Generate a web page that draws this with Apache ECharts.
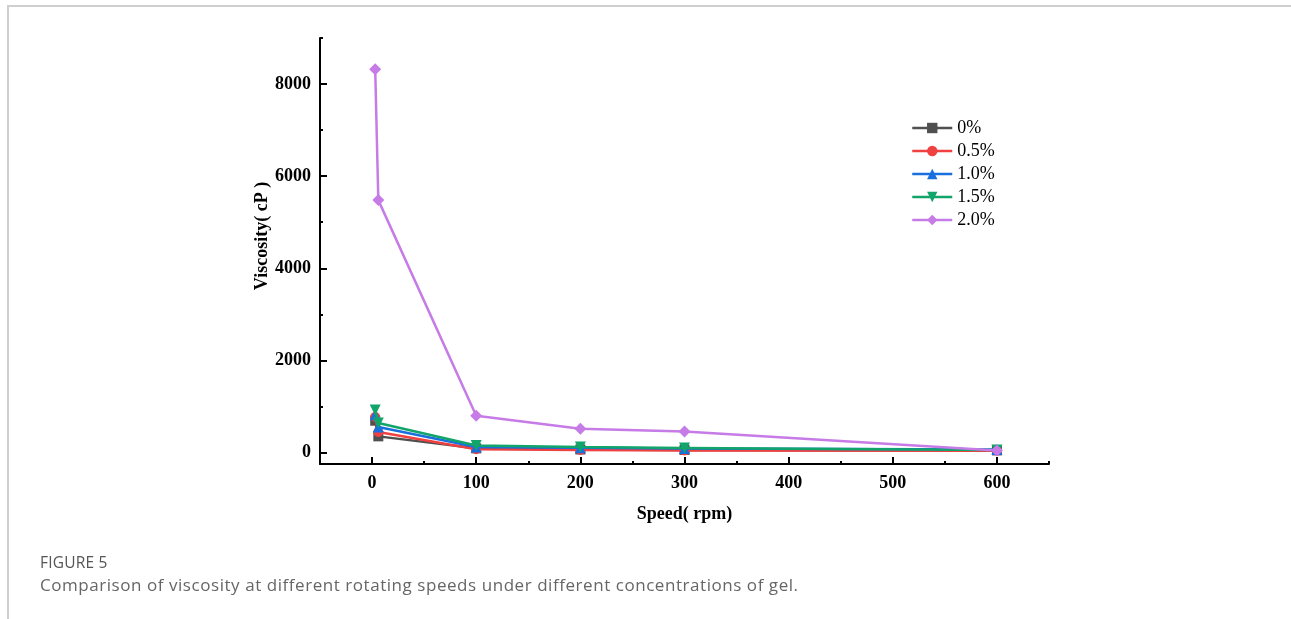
<!DOCTYPE html>
<html lang="en">
<head>
    <meta charset="UTF-8">
    <title>Figure 5 - Viscosity vs speed</title>
    <script src="https://cdn.jsdelivr.net/npm/echarts@6/dist/echarts.min.js"></script>
    <style>
        html, body { margin: 0; padding: 0; background: #fff; }
        #frame {
            position: absolute; left: 7px; top: 5px; width: 1290px; height: 620px;
            border-left: 2px solid #cfcfcf; border-top: 2px solid #cfcfcf;
        }
        #chart { position: absolute; left: 0; top: 0; width: 1291px; height: 619px; }
        .cap { position: absolute; left: 40px; font-family: "Open Sans", sans-serif; color: #666; }
    </style>
</head>
<body>
    <div id="frame"></div>
    <div id="chart"></div>
    <div class="cap" style="top:551px; color:#555; font-size:15.5px; letter-spacing:0.2px;">FIGURE 5</div>
    <div class="cap" style="top:573px; font-size:17px; letter-spacing:0.55px;">Comparison of viscosity at different rotating speeds under different concentrations of gel.</div>

    <script type="text/javascript">
        // rotor speeds (rpm)
        var speeds = [3, 6, 100, 200, 300, 600];
        var gel0 = [690, 350, 90, 65, 55, 45];
        var gel05 = [770, 445, 70, 55, 45, 40];
        var gel10 = [820, 555, 120, 105, 85, 65];
        var gel15 = [920, 640, 150, 120, 100, 55];
        var gel20 = [8320, 5480, 800, 515, 455, 45];

        var names = ['0%', '0.5%', '1.0%', '1.5%', '2.0%'];
        var xTicks = [0, 100, 200, 300, 400, 500, 600];
        var xMinor = [50, 150, 250, 350, 450, 550, 650];
        var yTicks = [0, 2000, 4000, 6000, 8000];
        var yMinor = [1000, 3000, 5000, 7000, 9000];

        var colors = ['#505050', '#f04141', '#1a6fdf', '#12a56b', '#c67be6'];
        var symbols = ['rect', 'circle', 'triangle', 'triangle', 'diamond'];
        var rotates = [0, 0, 0, 180, 0];
        var sizes = [10, 10, 11, 11, 12];
        var allData = [gel0, gel05, gel10, gel15, gel20];

        var serif = '"Liberation Serif", "Times New Roman", serif';

        var chart = echarts.init(document.getElementById('chart'));

        var series = allData.map(function (vals, i) {
            return {
                name: names[i],
                type: 'line',
                xAxisIndex: 0,
                yAxisIndex: 0,
                symbol: symbols[i],
                symbolRotate: rotates[i],
                symbolSize: sizes[i],
                itemStyle: { color: colors[i] },
                lineStyle: { width: 2.5, color: colors[i] },
                data: speeds.map(function (s, k) { return [s, vals[k]]; }),
                z: 2 + i
            };
        });

        function plain(v) { return String(v); }

        var option = {
            animation: false,
            grid: { left: 320, right: 242, top: 38, bottom: 155 },
            legend: {
                orient: 'vertical',
                left: 906,
                top: 114,
                itemWidth: 40,
                itemHeight: 13,
                itemGap: 5,
                lineStyle: { width: 2.5 },
                textStyle: { fontFamily: serif, fontSize: 18, color: '#000', lineHeight: 18 },
                data: names
            },
            xAxis: [{
                type: 'value', min: -50, max: 650,
                axisLine: { onZero: false, lineStyle: { color: '#000', width: 2 } },
                axisTick: { inside: true, length: 7, lineStyle: { width: 2, color: '#000' }, customValues: xTicks },
                axisLabel: { customValues: xTicks, formatter: plain, margin: 10, fontFamily: serif, fontWeight: 'bold', fontSize: 18, color: '#000' },
                splitLine: { show: false },
                name: 'Speed( rpm)', nameLocation: 'middle', nameGap: 41,
                nameTextStyle: { fontFamily: serif, fontWeight: 'bold', fontSize: 18, color: '#000' }
            }, {
                type: 'value', min: -50, max: 650, position: 'bottom',
                axisLine: { show: false, onZero: false },
                axisTick: { inside: true, length: 3, lineStyle: { width: 2, color: '#000' }, customValues: xMinor },
                axisLabel: { show: false },
                splitLine: { show: false }
            }],
            yAxis: [{
                type: 'value', min: -250, max: 9000,
                axisLine: { show: true, onZero: false, lineStyle: { color: '#000', width: 2 } },
                axisTick: { show: true, inside: true, length: 7, lineStyle: { width: 2, color: '#000' }, customValues: yTicks },
                axisLabel: { customValues: yTicks, formatter: plain, margin: 9, fontFamily: serif, fontWeight: 'bold', fontSize: 18, color: '#000' },
                splitLine: { show: false }
            }, {
                type: 'value', min: -250, max: 9000, position: 'left',
                axisLine: { show: false, onZero: false },
                axisTick: { show: true, inside: true, length: 3, lineStyle: { width: 2, color: '#000' }, customValues: yMinor },
                axisLabel: { show: false },
                splitLine: { show: false }
            }],
            graphic: [{
                type: 'text',
                x: 262, y: 236,
                rotation: Math.PI / 2,
                style: {
                    text: 'Viscosity( cP )',
                    fontFamily: serif, fontWeight: 'bold', fontSize: 18, fill: '#000',
                    align: 'center', verticalAlign: 'middle'
                }
            }],
            series: series
        };

        chart.setOption(option);
    </script>
</body>
</html>
